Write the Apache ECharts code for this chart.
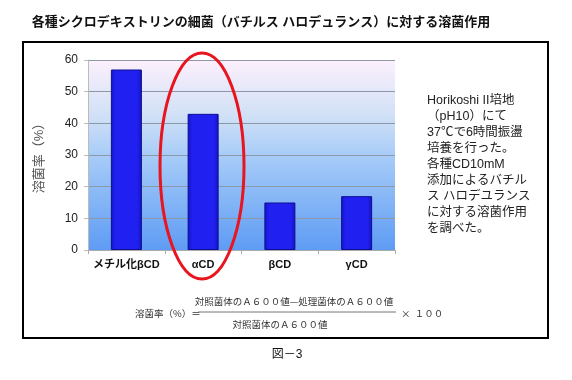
<!DOCTYPE html>
<html><head><meta charset="utf-8">
<script src="https://cdn.jsdelivr.net/npm/echarts@6/dist/echarts.min.js"></script>
<style>html,body{margin:0;padding:0;background:#fff}#c{width:572px;height:380px}</style>
</head><body><div id="c"></div>
<script>
const categories = ['メチル化βCD', 'αCD', 'βCD', 'γCD'];
const lysisRate = [57, 43, 15, 17];
const yTicks = { min: 0, max: 60, interval: 10 };
const titleText = '各種シクロデキストリンの細菌（バチルス ハロデュランス）に対する溶菌作用';
const noteLines = ['Horikoshi II培地', '（pH10）にて', '37℃で6時間振盪', '培養を行った。', '各種CD10mM', '添加によるバチル', 'ス ハロデユランス', 'に対する溶菌作用', 'を調べた。'];
const yName = '溶菌率（%）';

const chart = echarts.init(document.getElementById('c'), null, {renderer: 'canvas'});
const font = '"Liberation Sans", Arial, "Noto Sans CJK JP", sans-serif';
const graphics = [
  {type: 'rect', shape: {x: 23, y: 42, width: 525, height: 296}, style: {fill: 'none', stroke: '#000', lineWidth: 2}, z: 1},
  {type: 'text', x: 261, y: 22, style: {text: titleText, font: 'bold 13px ' + font, fill: '#111', textAlign: 'center', textVerticalAlign: 'middle'}},
  {type: 'text', x: 427, y: 93, style: {text: noteLines.join('\n'), font: '12.5px ' + font, lineHeight: 16, fill: '#222', textAlign: 'left', textVerticalAlign: 'top'}},
  {type: 'ellipse', shape: {cx: 202, cy: 166, rx: 42, ry: 113}, style: {fill: 'none', stroke: '#e8141e', lineWidth: 3}, z: 10},
  {type: 'text', x: 135, y: 313, style: {text: '溶菌率（%）＝', font: '9.5px "Noto Sans CJK JP"', fill: '#333', textAlign: 'left', textVerticalAlign: 'middle'}},
  {type: 'text', x: 294, y: 301, style: {text: '対照菌体のＡ６００値—処理菌体のＡ６００値', font: '9.5px "Noto Sans CJK JP"', fill: '#333', textAlign: 'center', textVerticalAlign: 'middle'}},
  {type: 'line', shape: {x1: 198, y1: 312, x2: 396, y2: 312}, style: {stroke: '#777', lineWidth: 1}},
  {type: 'text', x: 401, y: 313, style: {text: '×  １００', font: '9.5px "Noto Sans CJK JP"', fill: '#333', textAlign: 'left', textVerticalAlign: 'middle'}},
  {type: 'text', x: 280, y: 324, style: {text: '対照菌体のＡ６００値', font: '9.5px "Noto Sans CJK JP"', fill: '#333', textAlign: 'center', textVerticalAlign: 'middle'}},
  {type: 'text', x: 287, y: 355, style: {text: '図－3', font: '12px ' + font, fill: '#111', textAlign: 'center', textVerticalAlign: 'middle'}}
];

chart.setOption({
  animation: false,
  backgroundColor: '#fff',
  grid: {
    left: 88, right: 177, top: 60, bottom: 130, show: true, borderWidth: 0,
    backgroundColor: {type: 'linear', x: 0, y: 0, x2: 0, y2: 1, colorStops: [
      {offset: 0, color: '#fdf0fc'}, {offset: 0.3, color: '#cfe0f6'}, {offset: 0.5, color: '#a8ccf8'}, {offset: 1, color: '#5e9cf4'}
    ]}
  },
  xAxis: {
    type: 'category', data: categories,
    axisLine: {lineStyle: {color: '#aaa'}},
    axisTick: {show: true, lineStyle: {color: '#aaa'}, length: 4},
    axisLabel: {interval: 0, color: '#111', fontWeight: 'bold', fontSize: 11, margin: 9, fontFamily: font}
  },
  yAxis: {
    type: 'value', min: yTicks.min, max: yTicks.max, interval: yTicks.interval,
    name: yName, nameLocation: 'middle', nameGap: 42, nameRotate: 90,
    nameTextStyle: {color: '#555', fontSize: 13, fontFamily: font},
    axisLine: {show: true, lineStyle: {color: '#bbb'}},
    axisTick: {show: true, lineStyle: {color: '#bbb'}, length: 4},
    axisLabel: {color: '#222', fontSize: 12, margin: 10, fontFamily: font},
    splitLine: {lineStyle: {color: '#8c98a8', width: 1}}
  },
  series: [{
    type: 'bar', data: lysisRate, barWidth: 31,
    itemStyle: {
      color: {type: 'linear', x: 0, y: 0, x2: 1, y2: 0, colorStops: [
        {offset: 0, color: '#1414c8'}, {offset: 0.15, color: '#2020f0'}, {offset: 0.85, color: '#2020f0'}, {offset: 1, color: '#1414c0'}
      ]},
      borderColor: '#0e0e90', borderWidth: 1
    }
  }],
  graphic: graphics
});
</script></body></html>
